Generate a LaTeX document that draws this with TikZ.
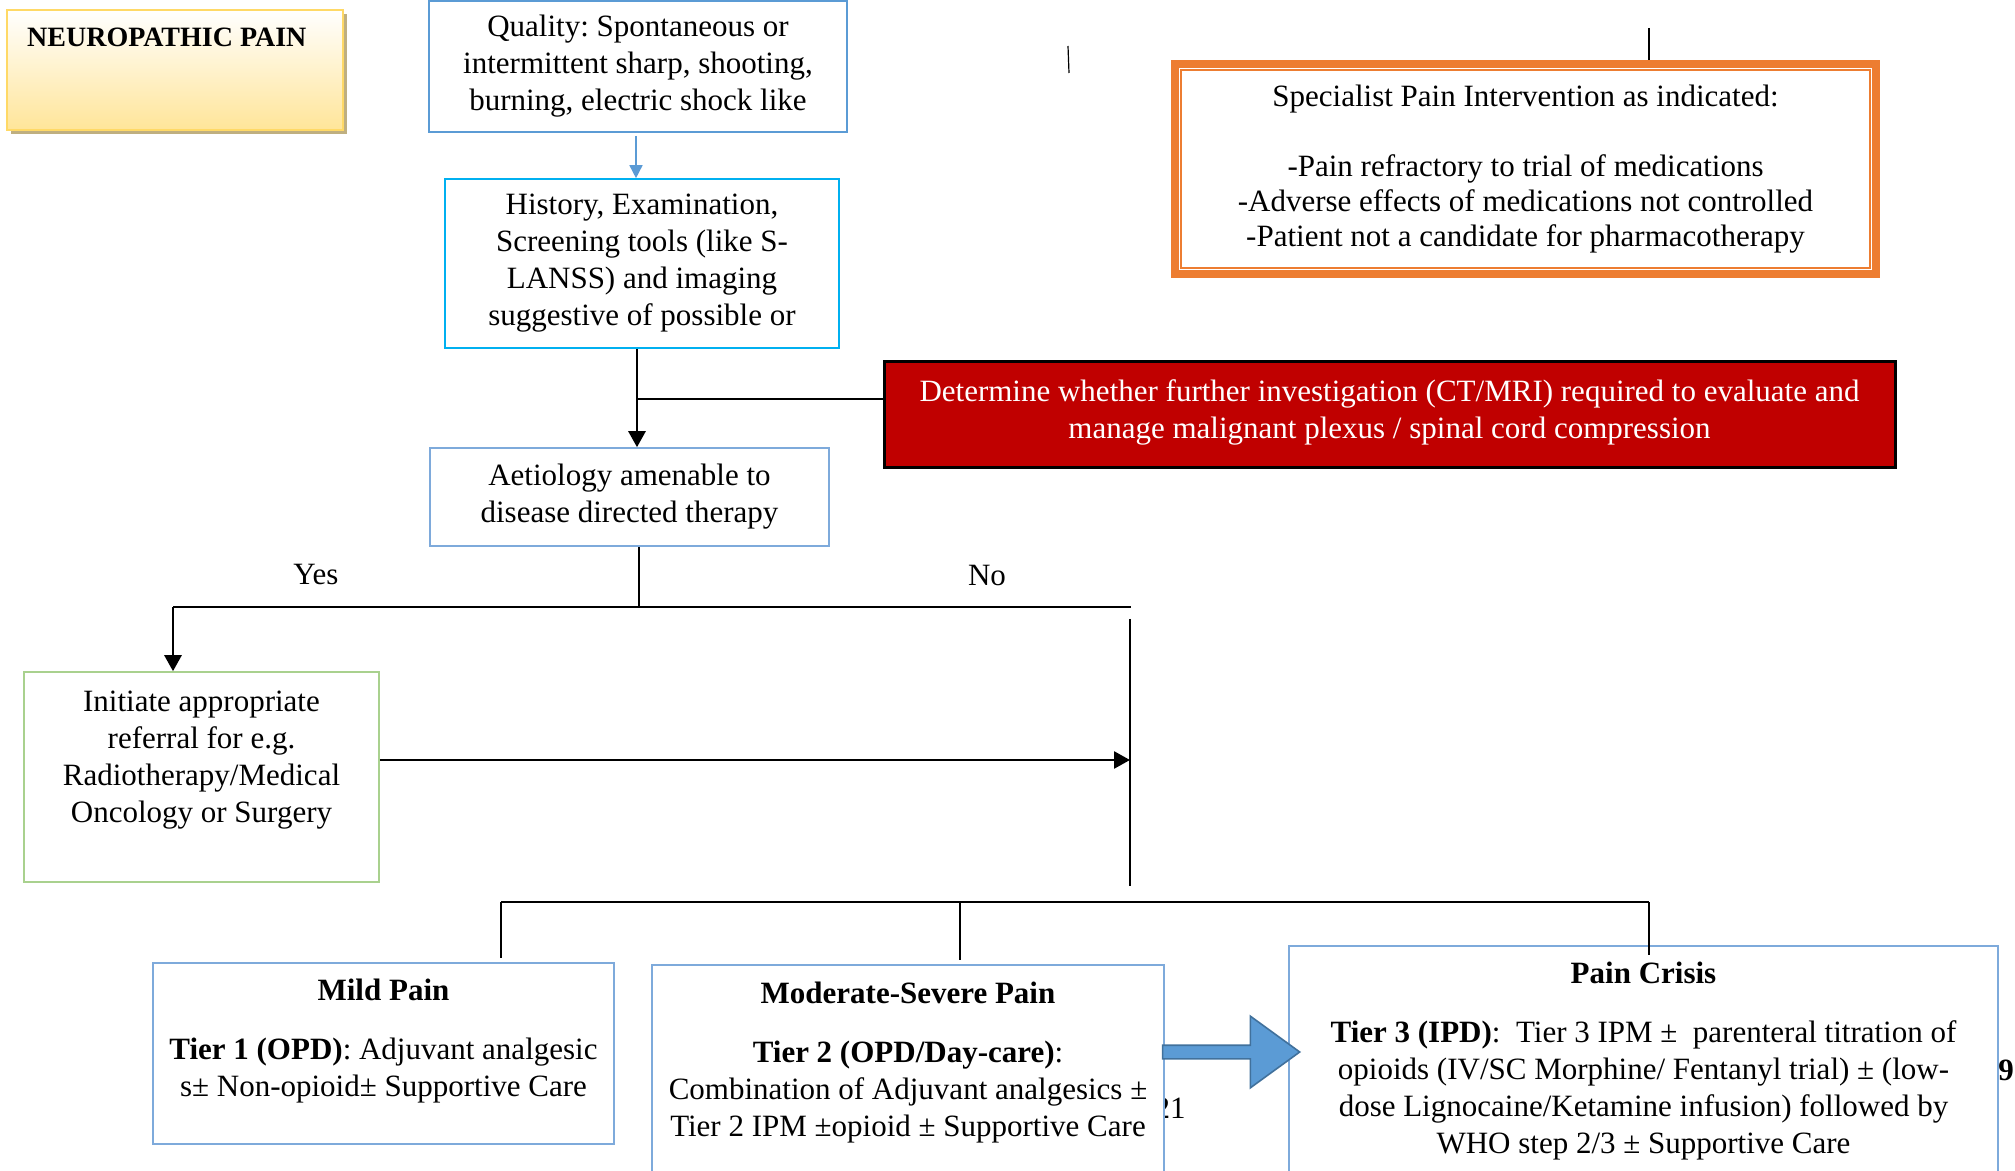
\documentclass[tikz,border=0pt]{standalone}
\usepackage{fontspec}
\setmainfont{Liberation Serif}
\frenchspacing
\usetikzlibrary{arrows.meta,positioning,calc,shapes.arrows,shadows}

\definecolor{boxblue}{HTML}{5B9BD5}
\definecolor{cyanline}{HTML}{00B0F0}
\definecolor{paleblue}{HTML}{7EAADB}
\definecolor{leafgreen}{HTML}{A9D18E}
\definecolor{warnorange}{HTML}{ED7D31}
\definecolor{alertred}{HTML}{C00000}
\definecolor{goldline}{HTML}{FFD966}
\definecolor{goldfill}{HTML}{FFE599}
\definecolor{shadowtan}{HTML}{BFAF80}
\definecolor{arrowedge}{HTML}{41719C}

\begin{document}
\begin{tikzpicture}[x=0.5pt,y=-0.5pt,
    every node/.style={font=\fontsize{15.5}{18.5}\selectfont},
    flowbox/.style={draw=#1,line width=0.8pt,align=center,inner sep=0pt},
    tierbox/.style={draw=paleblue,line width=0.8pt,fill=white,inner sep=0pt},
    tiertext/.style={align=center,inner sep=0pt},
    link/.style={line width=0.9pt},
    arr/.style={line width=1.35pt,-{Triangle[width=8.5pt,length=8pt]}}
  ]
  \useasboundingbox (0,0) rectangle (2015,1171);
  \clip (0,0) rectangle (2015,1171);

  % title card
  \node[draw=goldline,line width=1.2pt,top color=white,bottom color=goldfill,
        drop shadow={shadow xshift=1.8pt,shadow yshift=-1.8pt,fill=shadowtan,opacity=1},
        minimum width=168pt,minimum height=60pt,inner sep=0pt] (neuro) at (175,70) {};
  \node[anchor=west,inner sep=0pt,font=\fontsize{14}{16}\selectfont\bfseries] (neurotxt)
        at ($(neuro.north west)+(21,29)$) {NEUROPATHIC PAIN};

  % main column
  \node[flowbox=boxblue,line width=1pt,minimum width=209pt,minimum height=65.5pt] (quality) at (638,66.5)
        {Quality: Spontaneous or\\intermittent sharp, shooting,\\burning, electric shock like};
  \node[flowbox=cyanline,minimum width=197pt,minimum height=84.5pt] (history) at (642,263.5)
        {History, Examination,\\Screening tools (like S-\\LANSS) and imaging\\suggestive of possible or};
  \node[flowbox=paleblue,minimum width=199.5pt,minimum height=49pt] (aetio) at (629.5,497)
        {Aetiology amenable to\\disease directed therapy};

  % right hand boxes
  \node[flowbox=warnorange,line width=4pt,minimum width=350.5pt,minimum height=105pt,
        font=\fontsize{15.5}{17.5}\selectfont] (spec) at (1525.5,169)
        {Specialist Pain Intervention as indicated:\\[17.5pt]-Pain refractory to trial of medications\\-Adverse effects of medications not controlled\\-Patient not a candidate for pharmacotherapy};
  \draw[warnorange,line width=0.8pt] ([shift={(10,10)}]spec.north west) rectangle ([shift={(-10,-10)}]spec.south east);
  \node[flowbox=black,line width=1.5pt,fill=alertred,minimum width=505.5pt,minimum height=53pt] (red) at (1389.5,415) {};
  \node[tiertext,text=white] (redtxt) at ($(red.center)+(0,-3)$)
        {Determine whether further investigation (CT/MRI) required to evaluate and\\manage malignant plexus / spinal cord compression};

  % referral
  \node[flowbox=leafgreen,minimum width=177.5pt,minimum height=105pt] (init) at (201.5,777) {};
  \node[tiertext] (inittxt) at ($(init.center)+(0,-17)$)
        {Initiate appropriate\\referral for e.g.\\Radiotherapy/Medical\\Oncology or Surgery};

  % tiers
  \node[inner sep=0pt] (pagenum) at (1170,1108) {21};
  \node[anchor=west,inner sep=0pt] (pagenine) at (1998,1070) {\bfseries 9};
  \node[tierbox,minimum width=230.5pt,minimum height=90.5pt] (mild) at (383.5,1053.5) {};
  \node[tierbox,minimum width=256pt,minimum height=117.5pt] (mod) at (908,1082.5) {};
  \node[tierbox,minimum width=354.5pt,minimum height=127pt] (crisis) at (1643.5,1073) {};
  \node[tiertext] (mildtxt) at ($(mild.north)+(0,79)$)
        {\textbf{Mild Pain}\\[11pt]\textbf{Tier 1 (OPD)}: Adjuvant analgesic\\s± Non-opioid± Supportive Care};
  \node[tiertext] (modtxt) at ($(mod.north)+(0,98)$)
        {\textbf{Moderate-Severe Pain}\\[11pt]\textbf{Tier 2 (OPD/Day-care)}:\\Combination of Adjuvant analgesics ±\\Tier 2 IPM ±opioid ± Supportive Care};
  \node[tiertext] (crisistxt) at ($(crisis.north)+(0,116)$)
        {\textbf{Pain Crisis}\\[11pt]\textbf{Tier 3 (IPD)}:~ Tier 3 IPM ±~ parenteral titration of\\opioids (IV/SC Morphine/ Fentanyl trial) ± (low-\\dose Lignocaine/Ketamine infusion) followed by\\WHO step 2/3 ± Supportive Care};

  % connectors
  \draw[boxblue,line width=0.8pt,shorten <=1.5pt,-{Triangle[width=6.5pt,length=6.5pt]}]
        ([xshift=-1pt]quality.south) -- ([xshift=-1pt]quality.south |- history.north);
  \coordinate (trunk) at ([xshift=-2.5pt]history.south);
  \draw[arr] (trunk) -- (trunk |- aetio.north);
  \draw[link] ([yshift=8pt]red.west) -- ([yshift=8pt]red.west -| trunk);

  \coordinate (split) at (639,607);
  \coordinate (yesturn) at (173,607);
  \coordinate (noturn) at (1131,607);
  \draw[link] (split |- aetio.south) -- (split);
  \draw[link] (yesturn) -- (noturn);
  \node (yeslbl) at (316,575) {Yes};
  \node (nolbl) at (987,576) {No};
  \draw[arr] (yesturn) -- (yesturn |- init.north);

  \coordinate (nocol) at (1130,619);
  \coordinate (nocolend) at (1130,886);
  \draw[link] (nocol) -- (nocolend);
  \coordinate (initout) at ($(init.east)+(0,-17)$);
  \draw[arr] (initout) -- (initout -| nocol);

  \coordinate (tierleft) at (501,902);
  \coordinate (tiermid) at (960,902);
  \coordinate (tierright) at (1649,902);
  \draw[link] (tierleft) -- (tierright);
  \draw[link,shorten >=2pt] (tierleft) -- (tierleft |- mild.north);
  \draw[link,shorten >=2pt] (tiermid) -- (tiermid |- mod.north);
  \draw[link] (tierright) -- ([yshift=-5pt]tierright |- crisis.north);

  % stray ticks at the top
  \coordinate (tickA) at (1068,46);
  \coordinate (tickB) at (1649,28);
  \draw[line width=0.6pt] (tickA) -- ++(1,27);
  \draw[line width=0.6pt] (tickB) -- (tickB |- spec.north);

  % step up to tier 3
  \node[single arrow,fill=boxblue,draw=arrowedge,line width=0.8pt,inner xsep=0pt,inner ysep=3pt,
        minimum width=35pt,minimum height=68.5pt,single arrow head extend=14.5pt,
        single arrow tip angle=72] (tierarrow) at (1226.5,1052) {};
\end{tikzpicture}
\end{document}
